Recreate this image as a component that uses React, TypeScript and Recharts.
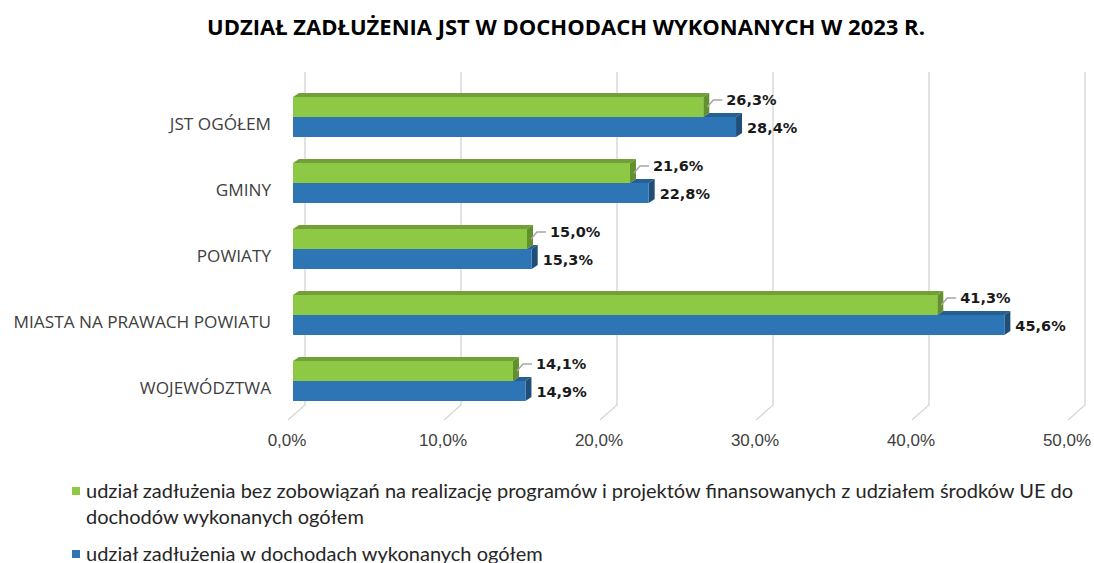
import { BarChart, Bar, XAxis, YAxis, CartesianGrid, LabelList } from 'recharts';

const categories = ['JST OGÓŁEM', 'GMINY', 'POWIATY', 'MIASTA NA PRAWACH POWIATU', 'WOJEWÓDZTWA'];
const bezUe = [26.3, 21.6, 15.0, 41.3, 14.1];
const ogolem = [28.4, 22.8, 15.3, 45.6, 14.9];
const xTicks = [0, 10, 20, 30, 40, 50];
const seriesNames = [
  'udział zadłużenia bez zobowiązań na realizację programów i projektów finansowanych z udziałem środków UE do dochodów wykonanych ogółem',
  'udział zadłużenia w dochodach wykonanych ogółem',
];
const colors = { green: '#8dc944', greenTop: '#729f38', greenSide: '#62902c', blue: '#2e75b6', blueTop: '#265f94', blueSide: '#1f4e79' };

const data = categories.map((name, i) => ({ name, bezUe: bezUe[i], ogolem: ogolem[i] }));

const W = 1094;
const H = 563;
const DX = 6;
const DY = 4;

const fmt = (v: number) => v.toFixed(1).replace('.', ',') + '%';

const GreenBar = (p: any) => {
  const { x, y, width, height } = p;
  const r = x + width;
  return (
    <g>
      <polygon points={`${x},${y} ${x + DX},${y - DY} ${r + DX},${y - DY} ${r},${y}`} fill={colors.greenTop} />
      <polygon points={`${r},${y} ${r + DX},${y - DY} ${r + DX},${y + height - DY} ${r},${y + height}`} fill={colors.greenSide} />
      <rect x={x} y={y} width={width} height={height} fill={colors.green} />
    </g>
  );
};

const BlueBar = (p: any) => {
  const { x, y, width, height, payload } = p;
  const r = x + width;
  // top face only shows where the blue bar sticks out past the green one
  const from = x + width * Math.min(1, payload.bezUe / payload.ogolem);
  return (
    <g>
      {from < r && (
        <polygon points={`${from},${y} ${from + DX},${y - DY} ${r + DX},${y - DY} ${r},${y}`} fill={colors.blueTop} />
      )}
      <polygon points={`${r},${y} ${r + DX},${y - DY} ${r + DX},${y + height - DY} ${r},${y + height}`} fill={colors.blueSide} />
      <rect x={x} y={y} width={width} height={height} fill={colors.blue} />
    </g>
  );
};

const GreenLabel = (p: any) => {
  const { x, y, width, height, value } = p;
  const r = x + width;
  const my = y + height / 2;
  return (
    <g>
      <polyline points={`${r + 4},${my} ${r + 10},${y + 3} ${r + 19},${y + 3}`} fill="none" stroke="#a6a6a6" strokeWidth={1.5} />
      <text x={r + 23} y={y + 3} dy="0.36em" fontFamily="DejaVu Sans" fontWeight="bold" fontSize={14.5} fill="#1a1a1a">
        {fmt(value)}
      </text>
    </g>
  );
};

const BlueLabel = (p: any) => {
  const { x, y, width, height, value } = p;
  return (
    <text x={x + width + 11} y={y + height / 2 + 1} dy="0.36em" fontFamily="DejaVu Sans" fontWeight="bold" fontSize={14.5} fill="#1a1a1a">
      {fmt(value)}
    </text>
  );
};

const GridLine = (p: any) => {
  const { x1, y1, y2 } = p;
  return (
    <path
      key={p.key}
      d={`M${x1 + 12},${y1 - 12} L${x1 + 12},${y2 - 9} L${x1 - 5},${y2 + 6}`}
      fill="none"
      stroke="#d9d9d9"
      strokeWidth={1.5}
    />
  );
};

const XTick = (p: any) => (
  <text x={p.x - 6} y={440} dy="0.36em" textAnchor="middle" fontFamily="Liberation Sans" fontSize={17} fill="#404040">
    {fmt(p.payload.value)}
  </text>
);

const YTick = (p: any) => (
  <text x={271} y={p.y + 7} dy="0.36em" textAnchor="end" fontFamily="Open Sans" fontSize={17.2} fill="#404040">
    {p.payload.value}
  </text>
);

const LegendItem = ({ color, text, top }: { color: string; text: string; top: number }) => (
  <div style={{ position: 'absolute', left: 72, top, width: 1016, display: 'flex', fontFamily: 'Lato', fontSize: 20, lineHeight: '26px', color: '#262626' }}>
    <span style={{ width: 8, height: 8, background: color, marginTop: 10, marginRight: 6, flex: 'none' }} />
    <span>{text}</span>
  </div>
);

export default function App() {
  return (
    <div style={{ position: 'absolute', left: 0, top: 0, width: W, height: H, background: '#fff' }}>
      <div style={{ position: 'absolute', top: 11, left: 0, width: 1132, textAlign: 'center', fontFamily: 'Open Sans', fontWeight: 'bold', fontSize: 22, color: '#000' }}>
        UDZIAŁ ZADŁUŻENIA JST W DOCHODACH WYKONANYCH W 2023 R.
      </div>
      <BarChart
        width={W}
        height={460}
        data={data}
        layout="vertical"
        margin={{ top: 84, right: 21, bottom: 16, left: 0 }}
        barSize={20}
        barGap={0}
      >
        <CartesianGrid horizontal={false} vertical={GridLine} stroke="#d9d9d9" />
        <XAxis type="number" domain={[0, 50]} ticks={xTicks} axisLine={false} tickLine={false} tick={XTick} height={30} />
        <YAxis type="category" dataKey="name" width={293} axisLine={false} tickLine={false} tick={YTick} />
        <Bar dataKey="bezUe" name={seriesNames[0]} fill={colors.green} shape={GreenBar} isAnimationActive={false}>
          <LabelList dataKey="bezUe" content={GreenLabel} />
        </Bar>
        <Bar dataKey="ogolem" name={seriesNames[1]} fill={colors.blue} shape={BlueBar} isAnimationActive={false}>
          <LabelList dataKey="ogolem" content={BlueLabel} />
        </Bar>
      </BarChart>
      <LegendItem color={colors.green} text={seriesNames[0]} top={477} />
      <LegendItem color={colors.blue} text={seriesNames[1]} top={540} />
    </div>
  );
}
